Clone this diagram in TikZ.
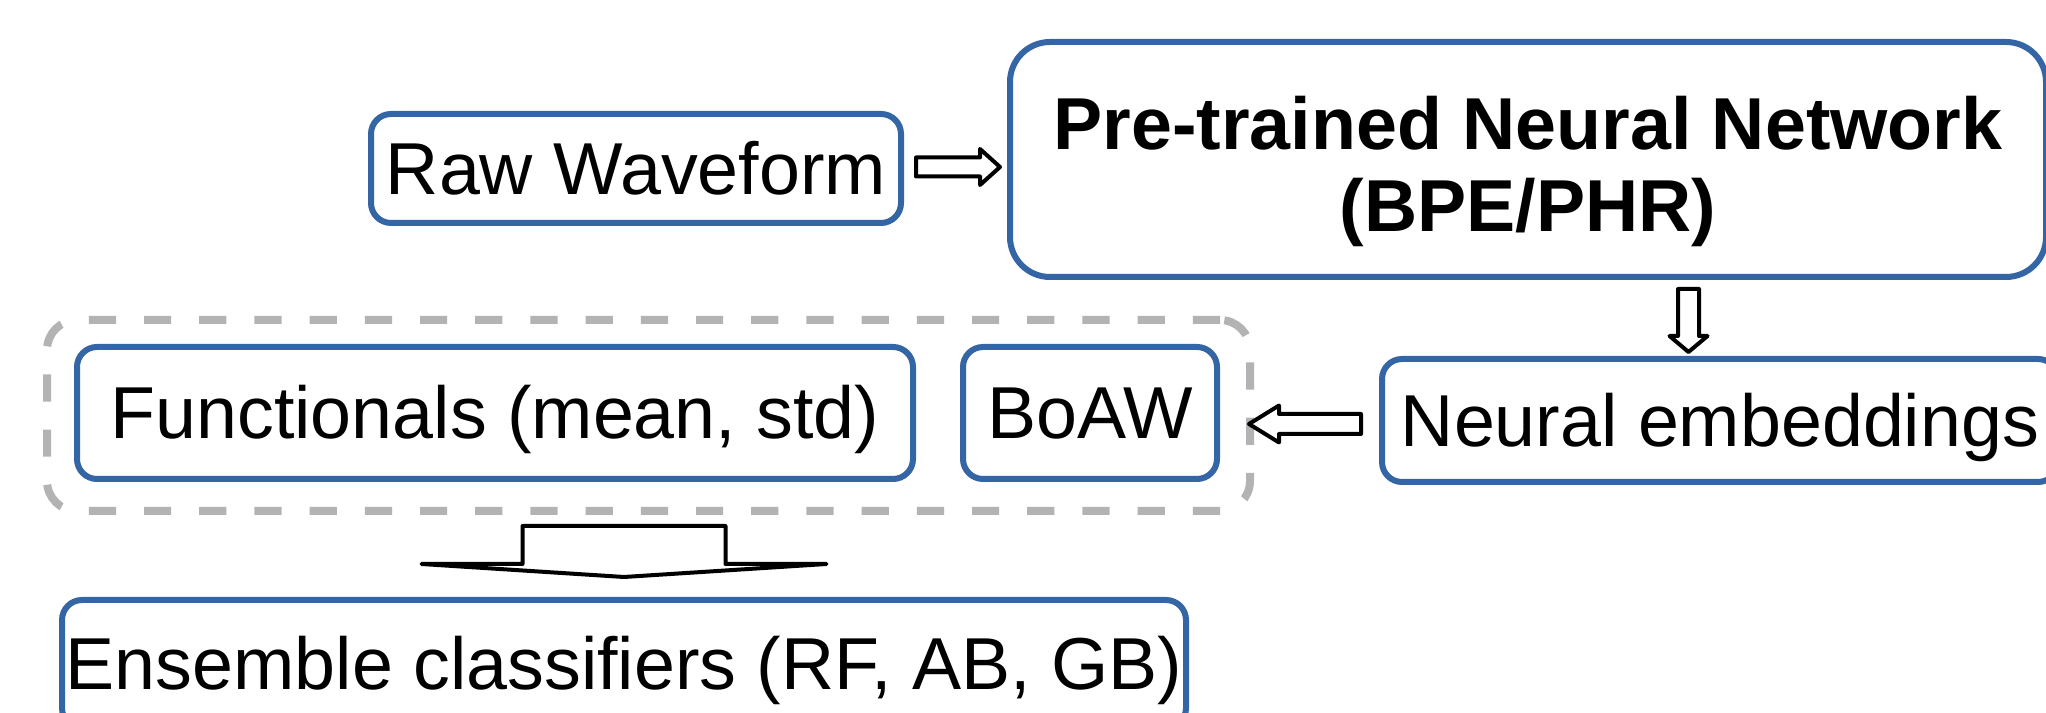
\documentclass[tikz,border=0pt]{standalone}
\usepackage{fontspec}
\setmainfont{Liberation Sans}
\usetikzlibrary{calc}
\definecolor{boxblue}{HTML}{3465A4}
\definecolor{dashgray}{HTML}{B3B3B3}
\begin{document}
\begin{tikzpicture}[x=0.25pt,y=-0.25pt,
  box/.style={draw=boxblue, line width=1.5pt, rounded corners=5pt, inner sep=0pt,
    text height=13pt, text depth=0pt, fill=white,
    font=\fontsize{18.4pt}{22pt}\selectfont},
  blk/.style={draw=black, line width=1pt, fill=white, line join=round, line cap=round},
  grpbox/.style={draw=dashgray, line width=2pt, dash pattern=on 6.8pt off 7pt,
    rounded corners=7.5pt, inner sep=0pt},
  ttl/.style={font=\fontsize{18.4pt}{22pt}\selectfont\bfseries, anchor=base, inner sep=0pt}]
\clip (0,0) rectangle (2046,713);
% group (dashed)
\node[grpbox, minimum width=300.75pt, minimum height=47.75pt] (grp) at (648.5,415.5) {};
% boxes
\node[box, minimum width=132.5pt, minimum height=27.25pt] (raw) at (636,168.5) {Raw Waveform};
\node[box, rounded corners=10pt, minimum width=259pt, minimum height=58.75pt] (pre) at (1528,159.5) {};
\node[ttl] (pre1) at (1528,150) {Pre-trained Neural Network};
\node[ttl] (pre2) at (1528,232) {(BPE/PHR)};
\node[box, minimum width=169pt, minimum height=30.75pt] (ne) at (1720,420.5) {Neural embeddings};
\node[box, minimum width=209pt, minimum height=33pt] (fun) at (495,413) {Functionals (mean, std)};
\node[box, minimum width=63.5pt, minimum height=33pt] (boaw) at (1090,413) {BoAW};
\node[box, minimum width=281pt, minimum height=32pt] (ens) at (624,664) {Ensemble classifiers (RF, AB, GB)};
% block arrows
\draw[blk] ($(raw.east)+(12,-11)$) -- ++(64,0) -- ++(0,-8.5) -- ++(20,18) -- ++(-20,18)
  -- ++(0,-8.5) -- ++(-64,0) -- cycle;
\coordinate (dx) at (1688.5,0);
\draw[blk] ($(pre.south -| dx)+(-10.5,9)$) -- ++(0,47) -- ++(-8.5,0) -- ++(19,16) -- ++(19,-16)
  -- ++(-8.5,0) -- ++(0,-47) -- cycle;
\draw[blk] ($(ne.west)+(-18,-6.5)$) -- ++(-82,0) -- ++(0,-8.5) -- ++(-30,18.5) -- ++(30,18.5)
  -- ++(0,-8.5) -- ++(82,0) -- cycle;
\draw[blk] ($(ens.north)+(-101.5,-71)$) -- ++(0,38) -- ++(-101,0) -- ++(202.5,13) -- ++(202.5,-13)
  -- ++(-101,0) -- ++(0,-38) -- cycle;
\end{tikzpicture}
\end{document}
